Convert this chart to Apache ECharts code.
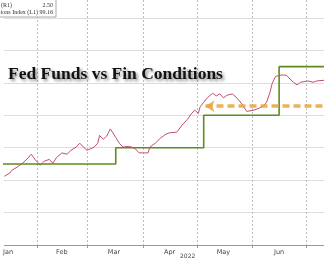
<!DOCTYPE html>
<html><head><meta charset="utf-8">
<script src="https://cdn.jsdelivr.net/npm/echarts@6/dist/echarts.min.js"></script>
<style>html,body{margin:0;padding:0;background:#fff}#c{width:324px;height:260px}</style>
</head><body><div id="c"></div>
<script>
// Financial conditions index (L1)
const fciDates = ['2022-01-14','2022-01-17','2022-01-18','2022-01-21','2022-01-22','2022-01-24','2022-01-26','2022-01-29','2022-01-31',
'2022-02-03','2022-02-05','2022-02-08','2022-02-10','2022-02-12','2022-02-15','2022-02-18','2022-02-20','2022-02-23','2022-02-25','2022-02-27',
'2022-03-01','2022-03-02','2022-03-05','2022-03-07','2022-03-08','2022-03-10','2022-03-12','2022-03-14','2022-03-17','2022-03-19','2022-03-21','2022-03-24','2022-03-26','2022-03-28','2022-03-30',
'2022-04-01','2022-04-04','2022-04-05','2022-04-08','2022-04-11','2022-04-14','2022-04-16','2022-04-17','2022-04-20','2022-04-23','2022-04-26','2022-04-28','2022-04-30',
'2022-05-02','2022-05-03','2022-05-05','2022-05-07','2022-05-08','2022-05-10','2022-05-12','2022-05-14','2022-05-16','2022-05-18','2022-05-19','2022-05-21','2022-05-23','2022-05-25','2022-05-27','2022-05-29','2022-05-30',
'2022-06-02','2022-06-03','2022-06-05','2022-06-07','2022-06-09','2022-06-11','2022-06-12','2022-06-14','2022-06-15','2022-06-17','2022-06-18','2022-06-20','2022-06-22','2022-06-24','2022-06-26','2022-06-28','2022-06-29',
'2022-07-02','2022-07-03','2022-07-05','2022-07-07','2022-07-08','2022-07-11'];
const fciValues = [97.56,97.61,97.65,97.70,97.72,97.76,97.81,97.90,97.82,
97.73,97.79,97.82,97.76,97.85,97.92,97.90,97.96,98.01,98.07,98.01,
97.96,97.99,98.01,98.07,98.19,98.13,98.18,98.29,98.16,98.07,98.01,98.02,98.01,97.98,97.92,
97.92,97.92,98.01,98.07,98.15,98.21,98.23,98.26,98.24,98.35,98.44,98.52,98.58,
98.53,98.63,98.70,98.77,98.80,98.84,98.80,98.83,98.77,98.81,98.84,98.83,98.78,98.72,98.64,98.56,98.55,
98.58,98.56,98.61,98.64,98.70,98.86,98.98,99.10,99.07,99.12,99.14,99.12,99.06,99.01,98.97,99.01,99.04,
99.03,99.04,99.01,99.03,99.00,99.04];
// Fed funds target upper bound (R1)
const ffDates = ['2022-01-01','2022-03-17','2022-05-05','2022-06-16','2022-07-28','2022-08-05'];
const ffValues = [0.25,0.50,1.00,1.75,2.50,2.50];
// annotation level (L1)
const arrowLevel = 98.64;
const arrowStart = '2022-05-06';
const arrowEnd = '2022-07-11';
const xStart = '2022-01-14';
const xEnd = '2022-07-11';
const monthNames = ['Jan','Feb','Mar','Apr','May','Jun'];
const monthStarts = ['2022-02-01','2022-03-01','2022-04-01','2022-05-01','2022-06-01','2022-07-01'];
const labelDates = ['2022-01-16','2022-02-15','2022-03-16','2022-04-16','2022-05-16','2022-06-16'];
const yearLabel = '2022';
const legendRows = [['Fed Funds Target Rate Upper Bound (R1)','2.50'],['GS US Financial Conditions Index (L1)','99.16']];

const ts = s => { const p = s.split('-').map(Number); return Date.UTC(p[0], p[1]-1, p[2]); };
const chart = echarts.init(document.getElementById('c'), null, {renderer:'canvas'});
const grid = '#bcbcbc';
chart.setOption({
  animation:false,
  backgroundColor:'#fff',
  title:{text:'Fed Funds vs Fin Conditions',left:3,top:60,
    textStyle:{fontFamily:'Liberation Serif',fontWeight:'bold',fontSize:17.5,color:'#111',
      textShadowColor:'rgba(0,0,0,0.45)',textShadowBlur:3,textShadowOffsetX:2,textShadowOffsetY:2}},
  grid:{left:0,right:0,top:0,bottom:15,containLabel:false},
  xAxis:{type:'value',min:ts(xStart),max:ts(xEnd),
    axisLine:{show:true,onZero:false,lineStyle:{color:'#999',width:1}},
    axisTick:{show:false},
    splitLine:{show:false},
    axisLabel:{show:true,customValues:labelDates.map(ts),margin:4,fontSize:6.5,color:'#444',fontFamily:'DejaVu Sans',
      formatter:v=>monthNames[new Date(v).getUTCMonth()]}},
  yAxis:[
    {type:'value',min:96.5,max:100.278,interval:0.5,position:'left',
      axisLabel:{show:false},axisLine:{show:false},axisTick:{show:false},
      splitLine:{show:true,showMinLine:false,showMaxLine:false,lineStyle:{color:grid,type:'dotted',width:1}}},
    {type:'value',min:-1,max:2.778,interval:0.5,position:'right',
      axisLabel:{show:false},axisLine:{show:false},axisTick:{show:false},splitLine:{show:false}}
  ],
  series:[
    {type:'line',name:'FF',yAxisIndex:1,step:'end',showSymbol:false,
      data:ffDates.map((d,i)=>[ts(d),ffValues[i]]),
      lineStyle:{color:'#5f8c1e',width:1.6},z:3},
    {type:'line',name:'FCI',yAxisIndex:0,showSymbol:false,
      data:fciDates.map((d,i)=>[ts(d),fciValues[i]]),
      lineStyle:{color:'#c24f74',width:1},z:4,
      markLine:{silent:true,symbol:['arrow','none'],symbolSize:[9,9],
        label:{show:false},
        lineStyle:{color:'#e8a53c',type:[7,4],width:3.5,opacity:0.85},
        data:[[{coord:[ts(arrowStart),arrowLevel]},{coord:[ts(arrowEnd),arrowLevel]}]]}}
  ]
});
// month gridlines and ticks, positioned through the x axis scale
const yTop = 0;
const yBot = chart.convertToPixel({yAxisIndex:0}, 96.5);
const g = [];
monthStarts.forEach(d => {
  const px = chart.convertToPixel({xAxisIndex:0}, ts(d));
  const x = Math.round(px) + 0.5;
  g.push({type:'line',z:1,silent:true,shape:{x1:x,y1:yTop,x2:x,y2:yBot},style:{stroke:grid,lineWidth:1,lineDash:[2,2]}});
  g.push({type:'line',z:1,silent:true,shape:{x1:x,y1:yBot,x2:x,y2:yBot+3},style:{stroke:'#999',lineWidth:1}});
});
g.push({type:'text',left:180,top:253,style:{text:yearLabel,fontSize:6,fill:'#444',fontFamily:'DejaVu Sans'}});
g.push({type:'rect',shape:{x:-80,y:-2,width:136,height:19},style:{fill:'#fff',stroke:'#aaa',lineWidth:1},z:10});
g.push({type:'text',x:12,y:2,z:11,style:{text:legendRows[0][0],align:'right',fontSize:6,fill:'#333',fontFamily:'Liberation Serif'}});
g.push({type:'text',x:53,y:2,z:11,style:{text:legendRows[0][1],align:'right',fontSize:6,fill:'#333',fontFamily:'Liberation Serif'}});
g.push({type:'text',x:38,y:9.5,z:11,style:{text:legendRows[1][0],align:'right',fontSize:6,fill:'#333',fontFamily:'Liberation Serif'}});
g.push({type:'text',x:53,y:9.5,z:11,style:{text:legendRows[1][1],align:'right',fontSize:6,fill:'#333',fontFamily:'Liberation Serif'}});
chart.setOption({graphic:g});
</script></body></html>
